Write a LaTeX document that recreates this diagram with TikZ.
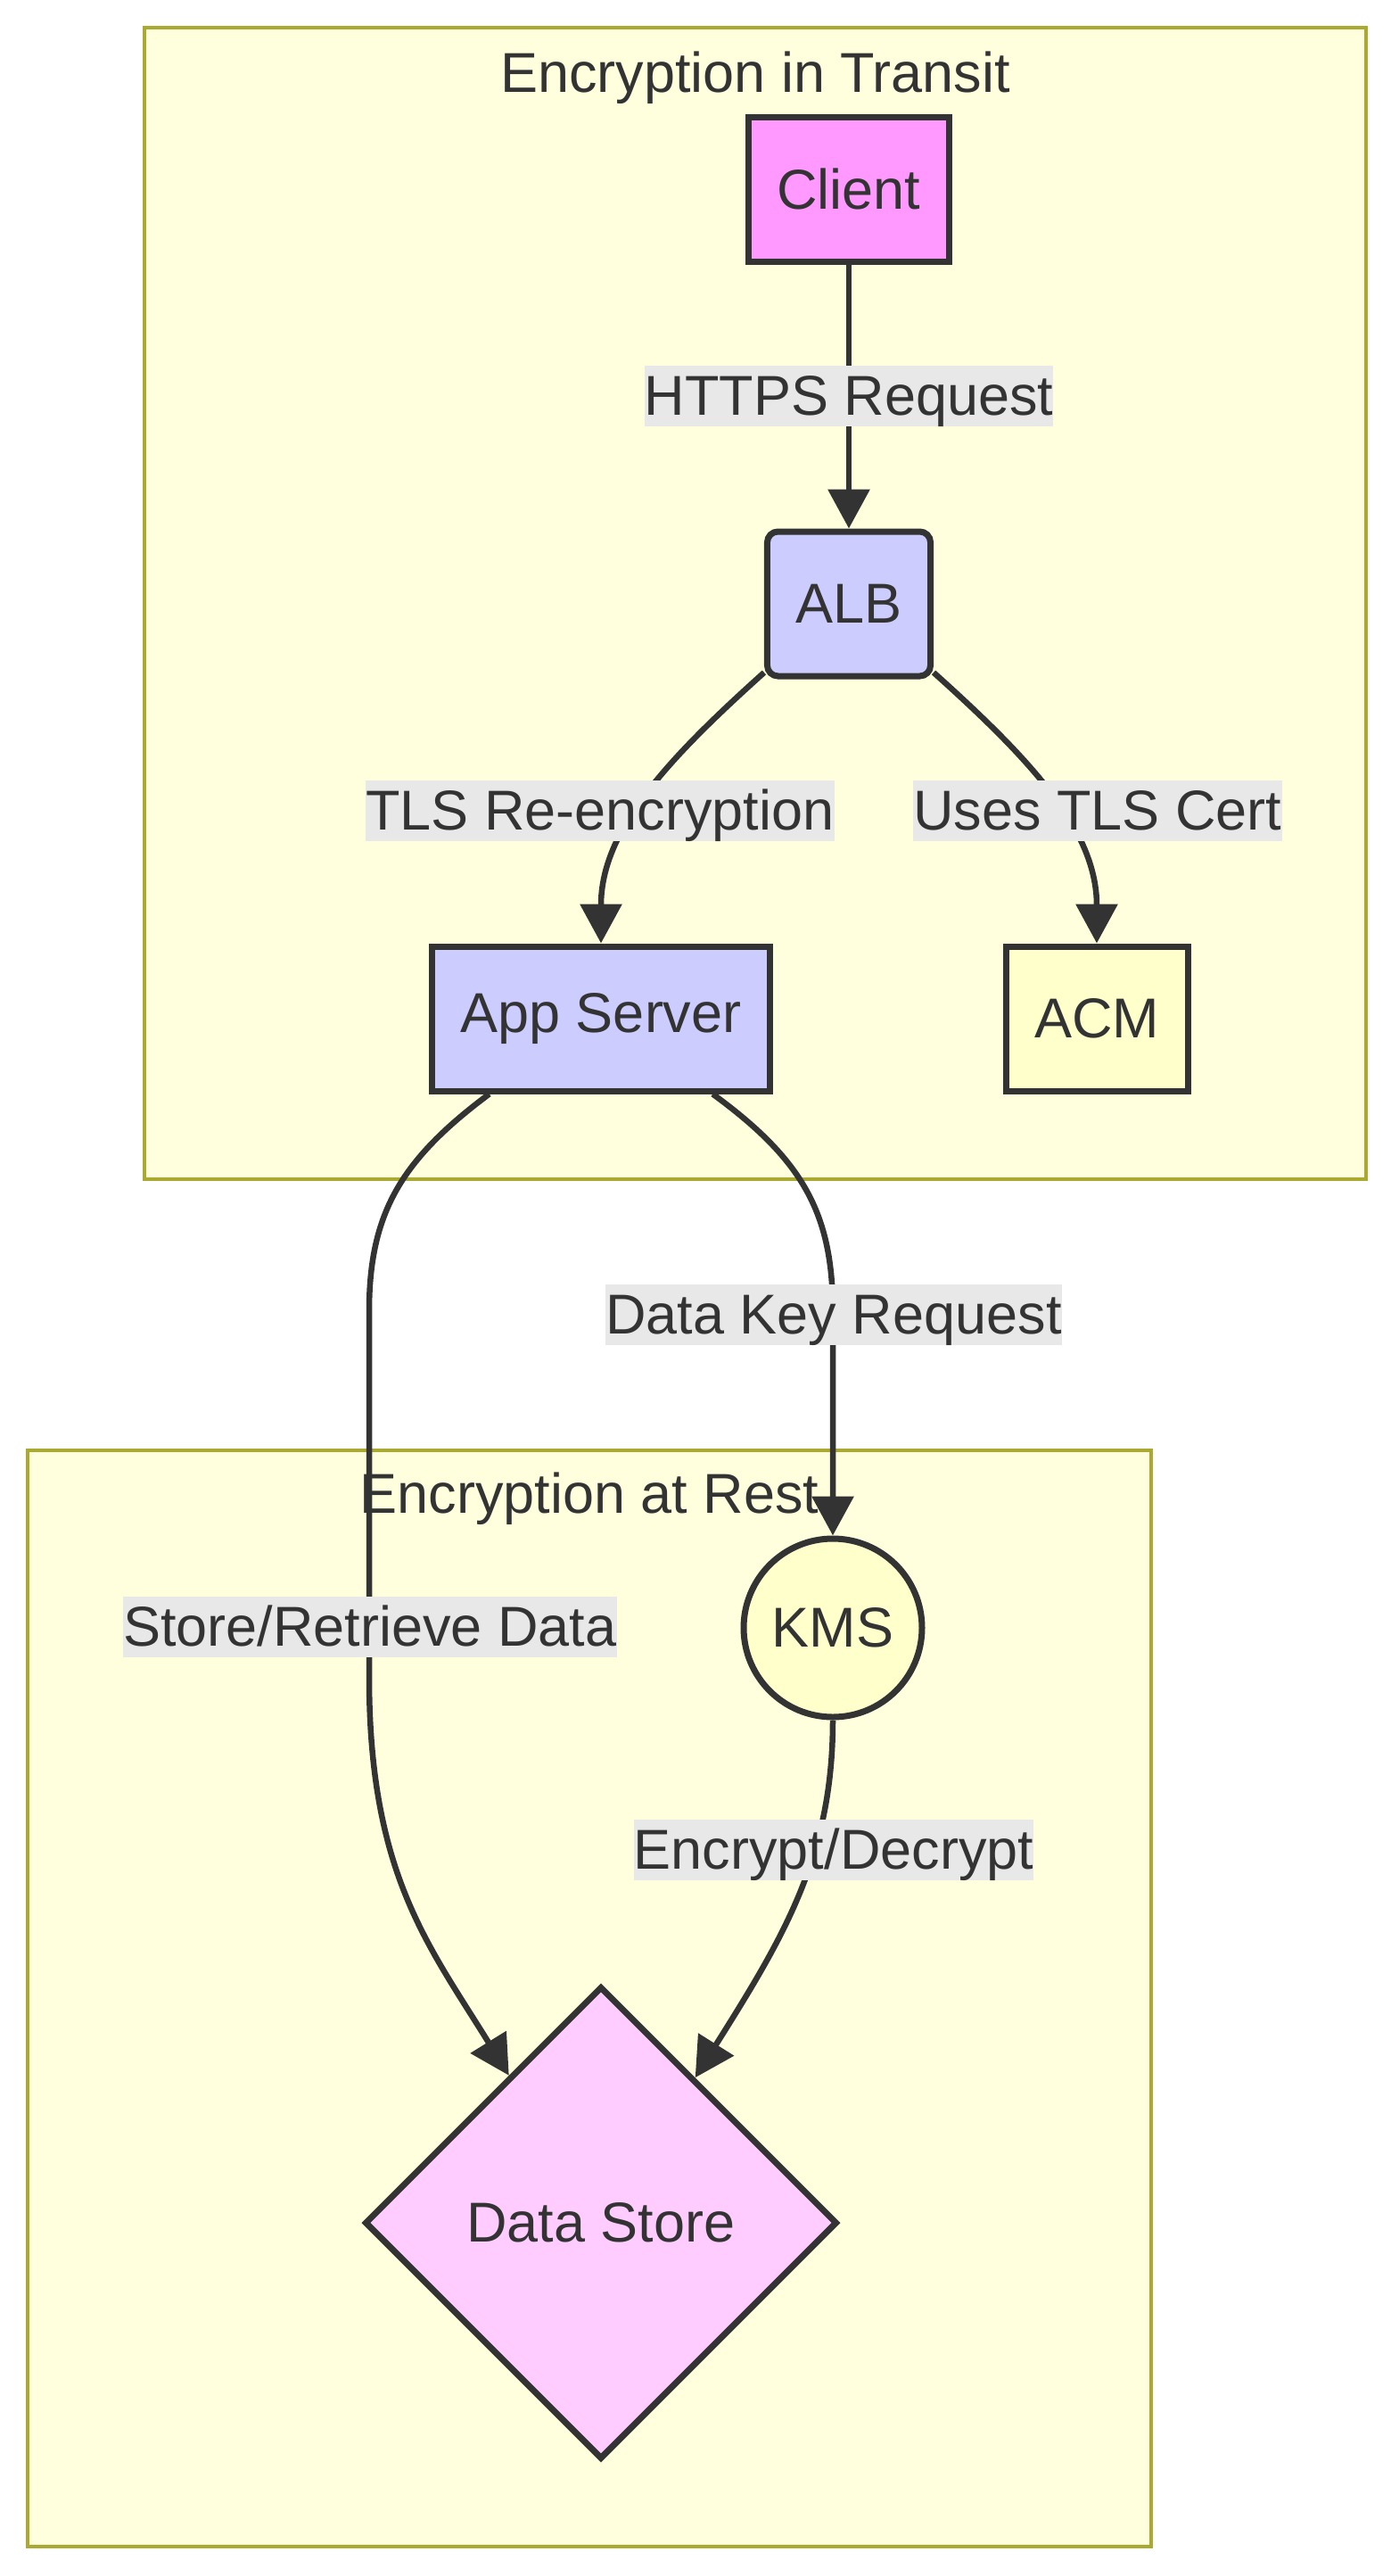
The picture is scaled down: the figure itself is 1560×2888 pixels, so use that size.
\documentclass[tikz,border=0pt]{standalone}
\usepackage{fontspec}
\setmainfont{Liberation Sans}
\usetikzlibrary{arrows.meta,positioning,shapes.geometric}
\definecolor{inkgrey}{HTML}{333333}
\definecolor{clusterfill}{HTML}{FFFFDE}
\definecolor{clusterline}{HTML}{AAAA33}
\definecolor{clientpink}{HTML}{FF99FF}
\definecolor{lbpurple}{HTML}{CCCCFF}
\definecolor{certyellow}{HTML}{FFFFCC}
\definecolor{storepink}{HTML}{FFCCFF}
\definecolor{labelgrey}{HTML}{E8E8E8}

\begin{document}
\begin{tikzpicture}[x=1pt,y=-1pt,>={Triangle[length=44pt,width=46pt]},
  every node/.style={font=\fontsize{63}{75}\selectfont,text=inkgrey},
  cluster/.style={draw=clusterline,fill=clusterfill,line width=3.5pt},
  box/.style={draw=inkgrey,line width=7pt,inner xsep=32pt,minimum height=162pt},
  lbl/.style={fill=labelgrey,inner sep=0pt,text height=55pt,text depth=13pt},
  conn/.style={->,draw=inkgrey,line width=6.5pt}]
\useasboundingbox[fill=white] (0,0) rectangle (1560,2888);

% subgraphs
\draw[cluster] (162,31) rectangle (1532,1322);
\node (transittitle) at (847,87) {Encryption in Transit};
\draw[cluster] (31,1626) rectangle (1291,2855);
\node (resttitle) at (661,1680) {Encryption at Rest};

% nodes
\node[box,fill=clientpink] (client) at (952,212) {Client};
\node[box,fill=lbpurple,rounded corners=12pt] (alb) at (952,677) {ALB};
\node[box,fill=lbpurple] (app) at (674,1142) {App Server};
\node[box,fill=certyellow] (acm) at (1230,1142) {ACM};
\node[circle,draw=inkgrey,line width=7pt,fill=certyellow,minimum size=200pt,inner sep=0pt] (kms) at (934,1825) {KMS};
\node[diamond,aspect=1,draw=inkgrey,line width=7pt,fill=storepink,minimum width=530pt,minimum height=530pt] (store) at (674,2492) {Data Store};

% connectors
\draw[conn] (client) -- (alb);
\draw[conn] (alb.219) .. controls (750,850) and (674,930) .. (app.north);
\draw[conn] (alb.-39) .. controls (1154,850) and (1230,930) .. (acm.north);
\draw[conn] (app.214) .. controls (450,1300) and (414,1360) .. (414,1470) -- (414,1880) .. controls (414,2100) and (480,2180) .. (store.122);
\draw[conn] (app.-34) .. controls (900,1300) and (934,1360) .. (934,1470) -- (kms.north);
\draw[conn] (kms.south) .. controls (934,2080) and (880,2170) .. (store.57);

% edge labels
\node[lbl] (lhttps) at (952,444) {HTTPS Request};
\node[lbl] (ltls) at (673,909) {TLS Re-encryption};
\node[lbl] (lcert) at (1231,909) {Uses TLS Cert};
\node[lbl] (lkey) at (935,1474) {Data Key Request};
\node[lbl] (lstore) at (415,1824) {Store/Retrieve Data};
\node[lbl] (lcrypt) at (935,2074) {Encrypt/Decrypt};
\end{tikzpicture}
\end{document}
